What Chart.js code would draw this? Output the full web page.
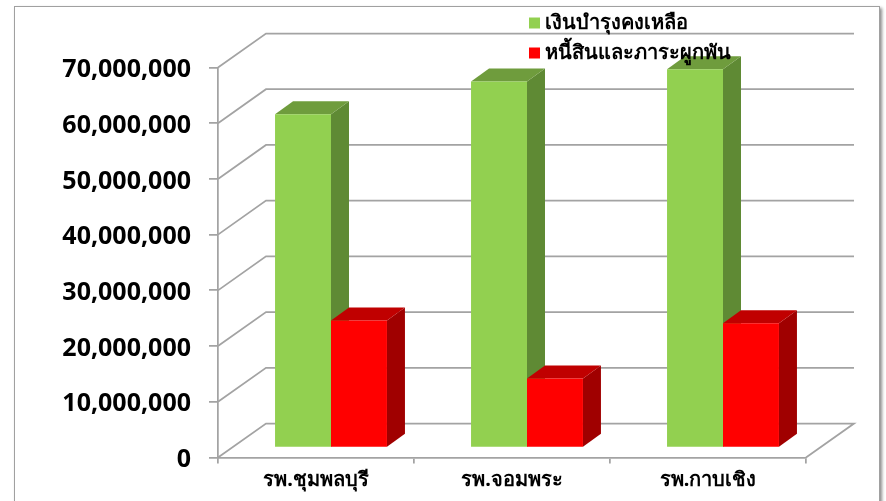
<!DOCTYPE html>
<html>
<head>
<meta charset="utf-8">
<script src="https://cdn.jsdelivr.net/npm/chart.js@4"></script>
<style>
    html, body { margin: 0; padding: 0; background: #fff; overflow: hidden; }
    #wrap { position: relative; width: 886px; height: 501px; overflow: hidden; }
    #frame {
        position: absolute; left: 14px; top: 6px; width: 864px; height: 520px;
        border: 1.5px solid #a0a0a0; box-shadow: 2px 2px 3px rgba(0,0,0,.45); background: #fff;
    }
    canvas { position: absolute; left: 0; top: 0; }
</style>
</head>
<body>
<div id="wrap">
    <div id="frame"></div>
    <canvas id="chart" width="886" height="501"></canvas>
</div>
<script>
var categories = ["รพ.ชุมพลบุรี", "รพ.จอมพระ", "รพ.กาบเชิง"];
var seriesNames = ["เงินบำรุงคงเหลือ", "หนี้สินและภาระผูกพัน"];
var remaining = [59800000, 65700000, 67900000];
var liabilities = [22800000, 12400000, 22300000];
var yTicks = [0, 10000000, 20000000, 30000000, 40000000, 50000000, 60000000, 70000000];

const FONT = '"Noto Sans", "DejaVu Sans", sans-serif';
const GRID = "#a3a3a3";
// depth of the 3d box, and how far the bars stand in from the front edge
const WALL_DX = 48, WALL_DY = -34;
const BAR_DX = 15, BAR_DY = -10;
const SIDE_DX = 18, SIDE_DY = -13;
const faces = [
    { top: "#6f9c3d", side: "#5f8a34" },
    { top: "#c00000", side: "#a00000" }
];

function poly(ctx, pts, fill) {
    ctx.beginPath();
    pts.forEach(function (p, i) { i ? ctx.lineTo(p[0], p[1]) : ctx.moveTo(p[0], p[1]); });
    ctx.closePath();
    ctx.fillStyle = fill;
    ctx.fill();
}

var box3d = {
    id: "box3d",
    beforeUpdate: function (chart) {
        // legend text sits over the bars in the original
        chart.legend._layers = function () {
            return [{ z: 5, draw: function (area) { chart.legend.draw(area); } }];
        };
    },
    afterLayout: function (chart) {
        var lg = chart.legend;
        var w = lg.width;
        lg.left = 524;
        lg.right = lg.left + w;
        lg.top = 3;
        lg.bottom = lg.top + lg.height;
    },
    beforeDatasetsDraw: function (chart) {
        var ctx = chart.ctx, area = chart.chartArea, y = chart.scales.y;
        ctx.save();
        ctx.strokeStyle = GRID;
        ctx.lineWidth = 1.75;
        yTicks.forEach(function (v) {
            var py = y.getPixelForValue(v);
            ctx.beginPath();
            ctx.moveTo(area.left, py);
            ctx.lineTo(area.left + WALL_DX, py + WALL_DY);
            ctx.lineTo(area.right + WALL_DX, py + WALL_DY);
            if (v === 0) ctx.lineTo(area.right, py);
            ctx.stroke();
        });
        ctx.restore();

        ctx.save();
        ctx.translate(BAR_DX, BAR_DY);
        chart.data.datasets.forEach(function (ds, d) {
            chart.getDatasetMeta(d).data.forEach(function (bar) {
                var p = bar.getProps(["x", "y", "base", "width"], true);
                var l = p.x - p.width / 2, r = p.x + p.width / 2;
                poly(ctx, [[r, p.y], [r + SIDE_DX, p.y + SIDE_DY], [r + SIDE_DX, p.base + SIDE_DY], [r, p.base]], faces[d].side);
                poly(ctx, [[l, p.y], [l + SIDE_DX, p.y + SIDE_DY], [r + SIDE_DX, p.y + SIDE_DY], [r, p.y]], faces[d].top);
            });
        });
    },
    afterDatasetsDraw: function (chart) {
        chart.ctx.restore();
    }
};

new Chart(document.getElementById("chart"), {
    type: "bar",
    plugins: [box3d],
    data: {
        labels: categories,
        datasets: [
            { label: seriesNames[0], data: remaining, backgroundColor: "#92d050" },
            { label: seriesNames[1], data: liabilities, backgroundColor: "#ff0000" }
        ]
    },
    options: {
        responsive: false,
        animation: false,
        categoryPercentage: 0.571,
        barPercentage: 1,
        layout: { padding: { top: 67.5, right: 80, left: 0, bottom: 0 } },
        plugins: {
            tooltip: { enabled: false },
            legend: {
                position: "chartArea",
                align: "start",
                labels: {
                    color: "#000",
                    // thin box with a thick stroke keeps the text close to the swatch
                    boxWidth: 1,
                    boxHeight: 1,
                    padding: 10,
                    font: { family: FONT, size: 20, weight: "bold" },
                    generateLabels: function (chart) {
                        return Chart.defaults.plugins.legend.labels.generateLabels(chart).map(function (item) {
                            item.lineWidth = 10;
                            item.strokeStyle = item.fillStyle;
                            return item;
                        });
                    }
                }
            }
        },
        scales: {
            x: {
                afterFit: function (scale) { scale.height = 43.5; },
                border: { color: GRID, width: 1.75 },
                grid: { drawOnChartArea: false, color: GRID, lineWidth: 1.75, tickLength: 6 },
                ticks: { color: "#000", padding: 5, font: { family: FONT, size: 20, weight: "bold" } }
            },
            y: {
                min: 0,
                max: 70000000,
                afterFit: function (scale) { scale.width = 218; },
                afterBuildTicks: function (scale) { scale.ticks = yTicks.map(function (v) { return { value: v }; }); },
                border: { color: GRID, width: 1.75 },
                grid: { drawOnChartArea: false, color: GRID, lineWidth: 1.75, tickLength: 9 },
                ticks: {
                    color: "#000",
                    padding: 18,
                    labelOffset: 2.5,
                    callback: function (v) { return v.toLocaleString("en-US"); },
                    font: { family: FONT, size: 25, weight: "bold" }
                }
            }
        }
    }
});
</script>
</body>
</html>
